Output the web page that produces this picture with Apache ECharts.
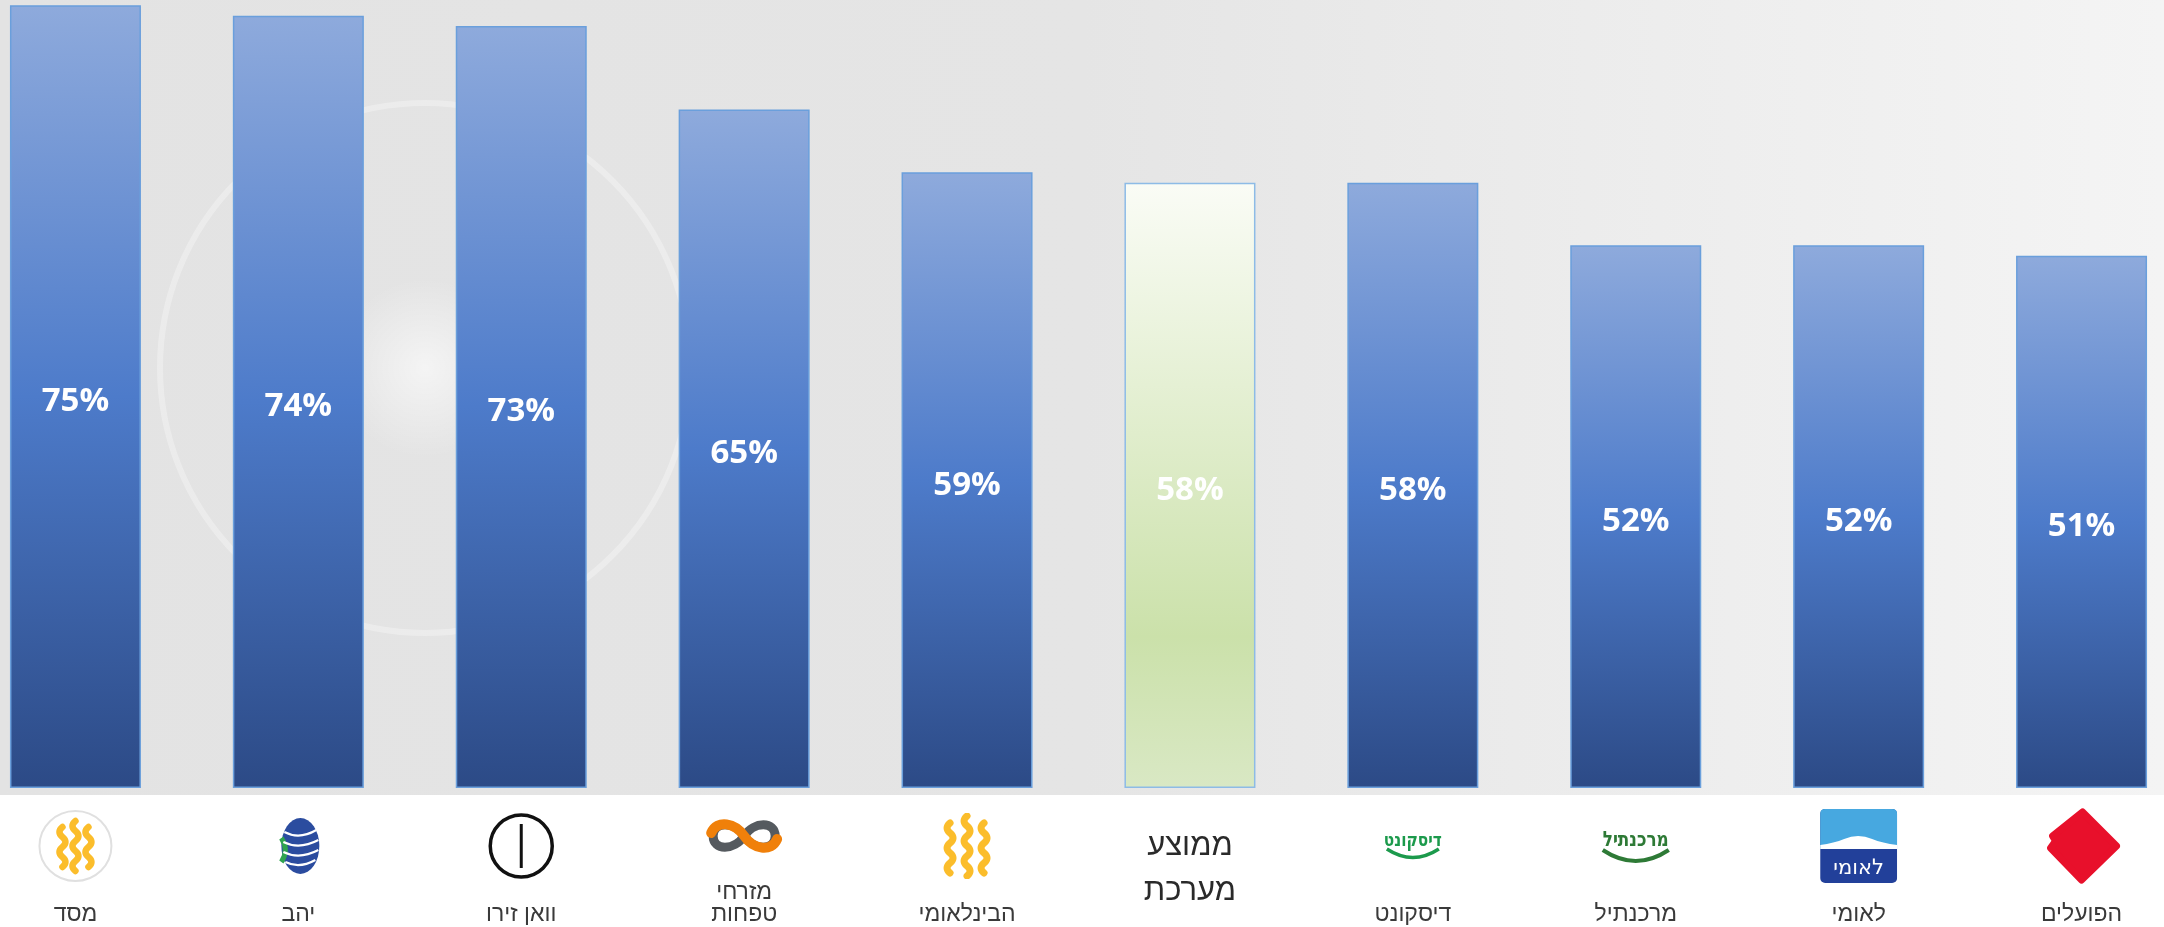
<!DOCTYPE html>
<html>
<head>
    <meta charset="utf-8">
    <title>Bank ranking</title>
    <script src="https://cdn.jsdelivr.net/npm/echarts@6.0.0/dist/echarts.min.js"></script>
    <style>
        body, html { margin: 0; padding: 0; width: 100%; height: 100%; overflow: hidden; background: #fff; }
        #main { width: 2164px; height: 927px; }
    </style>
</head>
<body>
    <div id="main"></div>
    <script type="text/javascript">
        // chart data
        var categories = ['מסד', 'יהב', 'וואן זירו', 'מזרחי\nטפחות', 'הבינלאומי', 'ממוצע\nמערכת', 'דיסקונט', 'מרכנתיל', 'לאומי', 'הפועלים'];
        var values = [75, 74, 73, 65, 59, 58, 58, 52, 52, 51];
        var logoKeys = ['massad', 'yahav', 'onezero', 'mizrahi', 'beinleumi', null, 'discount', 'mercantile', 'leumi', 'hapoalim'];
        var averageIndex = 5;

        // small svg stand-ins for the bank logos
        function svgUrl(w, h, body) {
            var s = "<svg xmlns='http://www.w3.org/2000/svg' width='" + w + "' height='" + h + "' viewBox='0 0 " + w + " " + h + "'>" + body + "</svg>";
            return 'data:image/svg+xml;charset=utf-8,' + encodeURIComponent(s);
        }
        var wave = function (x, y, n) {
            var d = 'M' + x + ' ' + y;
            for (var i = 0; i < n; i++) d += (i % 2 ? ' q6 5 0 10' : ' q-6 5 0 10');
            return "<path d='" + d + "'/>";
        };
        var logos = {
            massad: { w: 78, h: 74, url: svgUrl(78, 74,
                "<ellipse cx='39' cy='37' rx='36' ry='35' fill='#fff' stroke='#e0e0e0' stroke-width='2'/>" +
                "<g fill='none' stroke='#fbbd2b' stroke-width='6.5' stroke-linecap='round' stroke-linejoin='round'>" +
                wave(26, 18, 4) + wave(39, 12, 5) + wave(52, 18, 4) + "</g>") },
            yahav: { w: 46, h: 60, url: svgUrl(46, 60,
                "<ellipse cx='25' cy='30' rx='19' ry='28' fill='#2b4c9f'/>" +
                "<path d='M6 22 Q14 34 6 46' stroke='#2fa44f' stroke-width='5' fill='none'/>" +
                "<g fill='none' stroke='#fff' stroke-width='2.2'>" +
                "<path d='M9 16 Q24 24 41 14'/><path d='M8 26 Q24 34 43 24'/><path d='M8 36 Q24 44 43 34'/><path d='M10 46 Q24 53 40 44'/></g>") },
            onezero: { w: 70, h: 68, url: svgUrl(70, 68,
                "<circle cx='35' cy='34' r='31' fill='#fff' stroke='#111' stroke-width='3.5'/>" +
                "<line x1='35' y1='12' x2='35' y2='56' stroke='#111' stroke-width='3'/>") },
            mizrahi: { w: 86, h: 42, url: svgUrl(86, 42,
                "<path d='M43 21 C33 6 12 6 12 21 C12 36 33 36 43 21 C53 6 74 6 74 21 C74 36 53 36 43 21 Z' fill='none' stroke='#555a5f' stroke-width='9'/>" +
                "<path d='M10 18 C16 4 34 8 43 21 C52 34 70 38 76 24' fill='none' stroke='#f0800a' stroke-width='10' stroke-linecap='round'/>") },
            beinleumi: { w: 70, h: 66, url: svgUrl(70, 66,
                "<g fill='none' stroke='#fbbd2b' stroke-width='7' stroke-linecap='round' stroke-linejoin='round'>" +
                wave(18, 10, 5) + wave(35, 3, 6) + wave(52, 10, 5) + "</g>") },
            discount: { w: 72, h: 36, url: svgUrl(72, 36,
                "<text x='36' y='18' text-anchor='middle' font-family='DejaVu Sans Condensed' font-weight='bold' font-size='19' textLength='58' lengthAdjust='spacingAndGlyphs' fill='#1c9a4c'>דיסקונט</text>" +
                "<path d='M10 21 Q36 38 62 21' fill='none' stroke='#1c9a4c' stroke-width='3.5'/>") },
            mercantile: { w: 78, h: 44, url: svgUrl(78, 44,
                "<text x='39' y='22' text-anchor='middle' font-family='DejaVu Sans Condensed' font-weight='bold' font-size='21' textLength='66' lengthAdjust='spacingAndGlyphs' fill='#2e7a36'>מרכנתיל</text>" +
                "<path d='M6 26 Q39 48 72 26' fill='none' stroke='#2e7a36' stroke-width='4'/>") },
            leumi: { w: 77, h: 74, url: svgUrl(77, 74,
                "<rect x='0' y='0' width='77' height='74' rx='5' fill='#22409a'/>" +
                "<path d='M0 5 Q0 0 5 0 L72 0 Q77 0 77 5 L77 40 L0 40 Z' fill='#47a8e0'/>" +
                "<path d='M0 40 L0 36 Q14 34 24 30 Q38 24 52 30 Q62 34 77 36 L77 40 Z' fill='#fff'/>" +
                "<text x='38.5' y='65' text-anchor='middle' font-family='DejaVu Sans' font-size='21' fill='#fff'>לאומי</text>") },
            hapoalim: { w: 78, h: 76, url: svgUrl(78, 76,
                "<path d='M40 4 L74 38 L39 72 L8 40 L13 33 L10 28 Z' fill='#e8102b' stroke='#e8102b' stroke-width='7' stroke-linejoin='round'/>") }
        };

        var rich = {
            gap: { height: 18 },
            gapM: { height: 16 },
            t: { fontFamily: 'Liberation Sans', fontSize: 23, color: '#3a3a3a', lineHeight: 22 },
            avg: { fontFamily: 'Liberation Sans', fontSize: 31, color: '#2a2a2a', lineHeight: 45 }
        };
        logoKeys.forEach(function (k) {
            if (!k) return;
            rich[k] = {
                width: logos[k].w, height: logos[k].h,
                lineHeight: k === 'mizrahi' ? 60 : 80,
                backgroundColor: { image: logos[k].url }
            };
        });

        var blueFill = new echarts.graphic.LinearGradient(0, 0, 0, 1, [
            { offset: 0, color: '#8eaadc' },
            { offset: 0.5, color: '#4d7bca' },
            { offset: 1, color: '#2c4a86' }
        ]);
        var greenFill = new echarts.graphic.LinearGradient(0, 0, 0, 1, [
            { offset: 0, color: '#fafcf6' },
            { offset: 0.75, color: '#cbe1aa' },
            { offset: 1, color: '#d9e8c4' }
        ]);

        var myChart = echarts.init(document.getElementById('main'));
        myChart.setOption({
            backgroundColor: '#ffffff',
            animation: false,
            graphic: [
                {
                    type: 'rect', z: -100, silent: true,
                    shape: { x: 0, y: 0, width: 2164, height: 795 },
                    style: {
                        fill: new echarts.graphic.LinearGradient(0, 0, 1, 0, [
                            { offset: 0, color: '#e3e3e3' },
                            { offset: 0.5, color: '#e5e5e5' },
                            { offset: 1, color: '#f4f4f4' }
                        ])
                    }
                },
                {
                    type: 'circle', z: -99, silent: true,
                    shape: { cx: 425, cy: 368, r: 90 },
                    style: {
                        fill: new echarts.graphic.RadialGradient(0.5, 0.5, 0.5, [
                            { offset: 0, color: 'rgba(255,255,255,0.6)' },
                            { offset: 1, color: 'rgba(255,255,255,0)' }
                        ])
                    }
                },
                {
                    type: 'circle', z: -98, silent: true,
                    shape: { cx: 425, cy: 368, r: 265 },
                    style: { fill: 'none', stroke: 'rgba(255,255,255,0.3)', lineWidth: 6 }
                }
            ],
            grid: {
                left: -36, right: -29, top: 0, bottom: 139,
                containLabel: false,
                outerBoundsMode: 'none'
            },
            xAxis: {
                type: 'category',
                data: categories,
                axisLine: { show: false },
                axisTick: { show: false },
                axisLabel: {
                    interval: 0,
                    margin: 18,
                    hideOverlap: false,
                    formatter: function (value, idx) {
                        if (idx === averageIndex) {
                            return '{gap|}\n' + value.split('\n').map(function (s) { return '{avg|' + s + '}'; }).join('\n');
                        }
                        var k = logoKeys[idx];
                        var g = k === 'mizrahi' ? 'gapM' : 'gap';
                        return '{' + k + '|}\n{' + g + '|}\n' + value.split('\n').map(function (s) { return '{t|' + s + '}'; }).join('\n');
                    },
                    rich: rich
                }
            },
            yAxis: {
                type: 'value',
                min: 0,
                max: 75.5,
                show: false,
                splitLine: { show: false }
            },
            series: [{
                type: 'bar',
                barWidth: 131,
                data: values.map(function (v, i) {
                    return {
                        value: v,
                        itemStyle: i === averageIndex
                            ? { color: greenFill, borderColor: '#8dbbe6', borderWidth: 1.5 }
                            : { color: blueFill, borderColor: '#6a9fdc', borderWidth: 1.5 }
                    };
                }),
                label: {
                    show: true,
                    position: 'inside',
                    offset: [0, 5],
                    formatter: '{c}%',
                    color: '#ffffff',
                    fontFamily: 'Open Sans',
                    fontWeight: 'bold',
                    fontSize: 33
                }
            }]
        });
    </script>
</body>
</html>
